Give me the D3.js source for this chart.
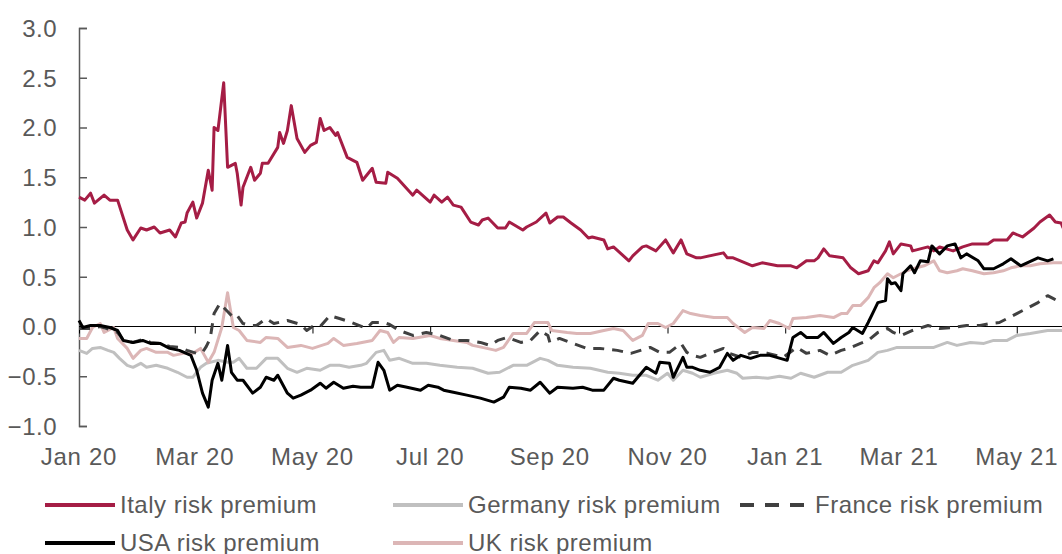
<!DOCTYPE html>
<html><head><meta charset="utf-8">
<script src="https://cdn.jsdelivr.net/npm/d3@7"></script>
<style>
html,body{margin:0;padding:0;background:#fff;}
svg text{font-family:"Liberation Sans",Arial,Helvetica,sans-serif;fill:#595959;}
</style></head>
<body>
<svg id="c" width="1062" height="554"></svg>
<script>
const yTicks = [-1.0,-0.5,0.0,0.5,1.0,1.5,2.0,2.5,3.0];
const xTicks = ["2020-01-01","2020-03-01","2020-05-01","2020-07-01","2020-09-01","2020-11-01","2021-01-01","2021-03-01","2021-05-01"];
const xTickLabels = ["Jan 20","Mar 20","May 20","Jul 20","Sep 20","Nov 20","Jan 21","Mar 21","May 21"];
const seriesNames = ["Italy risk premium","Germany risk premium","France risk premium","USA risk premium","UK risk premium"];

const italy = [
["2020-01-01",1.30],["2020-01-04",1.27],["2020-01-07",1.34],["2020-01-09",1.24],["2020-01-14",1.32],["2020-01-17",1.27],["2020-01-21",1.27],["2020-01-26",0.97],["2020-01-29",0.87],["2020-02-02",0.99],["2020-02-05",0.97],["2020-02-09",1.00],["2020-02-12",0.94],["2020-02-17",0.97],["2020-02-20",0.90],["2020-02-23",1.04],["2020-02-25",1.05],["2020-02-26",1.14],["2020-02-29",1.25],["2020-03-02",1.09],["2020-03-05",1.24],["2020-03-08",1.57],["2020-03-10",1.37],["2020-03-11",2.00],["2020-03-13",1.97],["2020-03-16",2.45],["2020-03-18",1.60],["2020-03-22",1.64],["2020-03-23",1.54],["2020-03-25",1.22],["2020-03-26",1.40],["2020-03-30",1.60],["2020-04-01",1.47],["2020-04-04",1.54],["2020-04-05",1.64],["2020-04-08",1.64],["2020-04-13",1.80],["2020-04-14",1.95],["2020-04-16",1.84],["2020-04-18",1.97],["2020-04-20",2.22],["2020-04-23",1.89],["2020-04-27",1.75],["2020-04-30",1.82],["2020-05-03",1.85],["2020-05-05",2.09],["2020-05-07",1.97],["2020-05-10",2.00],["2020-05-13",1.92],["2020-05-14",1.95],["2020-05-19",1.70],["2020-05-24",1.65],["2020-05-27",1.47],["2020-06-01",1.59],["2020-06-03",1.45],["2020-06-08",1.44],["2020-06-09",1.55],["2020-06-14",1.49],["2020-06-22",1.32],["2020-06-24",1.37],["2020-07-01",1.25],["2020-07-03",1.32],["2020-07-07",1.25],["2020-07-10",1.30],["2020-07-13",1.22],["2020-07-17",1.20],["2020-07-22",1.05],["2020-07-26",1.02],["2020-07-28",1.07],["2020-07-31",1.09],["2020-08-05",0.99],["2020-08-09",0.99],["2020-08-11",1.05],["2020-08-18",0.97],["2020-08-20",1.00],["2020-08-25",1.05],["2020-08-30",1.14],["2020-09-01",1.04],["2020-09-05",1.10],["2020-09-08",1.10],["2020-09-12",1.04],["2020-09-17",0.97],["2020-09-21",0.89],["2020-09-23",0.90],["2020-09-29",0.87],["2020-10-01",0.78],["2020-10-04",0.80],["2020-10-12",0.66],["2020-10-14",0.71],["2020-10-19",0.80],["2020-10-21",0.81],["2020-10-26",0.76],["2020-10-31",0.87],["2020-11-04",0.74],["2020-11-08",0.87],["2020-11-11",0.73],["2020-11-16",0.69],["2020-11-18",0.69],["2020-11-30",0.74],["2020-12-02",0.69],["2020-12-05",0.69],["2020-12-15",0.61],["2020-12-20",0.64],["2020-12-28",0.61],["2021-01-04",0.61],["2021-01-07",0.59],["2021-01-12",0.66],["2021-01-16",0.66],["2021-01-18",0.69],["2021-01-21",0.78],["2021-01-24",0.71],["2021-01-31",0.69],["2021-02-04",0.59],["2021-02-08",0.53],["2021-02-13",0.56],["2021-02-16",0.66],["2021-02-18",0.64],["2021-02-22",0.76],["2021-02-24",0.85],["2021-02-26",0.73],["2021-03-02",0.83],["2021-03-07",0.81],["2021-03-08",0.76],["2021-03-16",0.80],["2021-03-19",0.76],["2021-03-22",0.80],["2021-03-29",0.76],["2021-04-03",0.80],["2021-04-08",0.83],["2021-04-16",0.83],["2021-04-19",0.87],["2021-04-26",0.87],["2021-04-29",0.94],["2021-05-04",0.90],["2021-05-10",0.99],["2021-05-13",1.05],["2021-05-18",1.12],["2021-05-21",1.05],["2021-05-24",1.04],["2021-05-25",0.99]
];

const usa = [
["2020-01-01",0.06],["2020-01-03",-0.01],["2020-01-07",0.01],["2020-01-12",0.01],["2020-01-17",-0.01],["2020-01-21",-0.04],["2020-01-24",-0.14],["2020-01-29",-0.16],["2020-02-03",-0.14],["2020-02-07",-0.17],["2020-02-12",-0.17],["2020-02-17",-0.22],["2020-02-22",-0.24],["2020-02-28",-0.29],["2020-03-02",-0.44],["2020-03-05",-0.67],["2020-03-08",-0.81],["2020-03-10",-0.54],["2020-03-13",-0.37],["2020-03-15",-0.54],["2020-03-18",-0.19],["2020-03-20",-0.46],["2020-03-23",-0.54],["2020-03-26",-0.54],["2020-03-31",-0.67],["2020-04-04",-0.61],["2020-04-07",-0.51],["2020-04-11",-0.54],["2020-04-13",-0.49],["2020-04-18",-0.67],["2020-04-21",-0.72],["2020-04-25",-0.69],["2020-04-30",-0.64],["2020-05-05",-0.57],["2020-05-08",-0.62],["2020-05-12",-0.56],["2020-05-17",-0.62],["2020-05-22",-0.60],["2020-05-26",-0.61],["2020-06-01",-0.61],["2020-06-04",-0.36],["2020-06-07",-0.44],["2020-06-10",-0.64],["2020-06-14",-0.59],["2020-06-19",-0.61],["2020-06-26",-0.64],["2020-06-30",-0.59],["2020-07-05",-0.61],["2020-07-08",-0.64],["2020-07-13",-0.66],["2020-07-20",-0.69],["2020-07-27",-0.72],["2020-08-03",-0.76],["2020-08-08",-0.71],["2020-08-11",-0.61],["2020-08-17",-0.62],["2020-08-22",-0.64],["2020-08-27",-0.56],["2020-09-01",-0.67],["2020-09-05",-0.61],["2020-09-13",-0.62],["2020-09-18",-0.61],["2020-09-23",-0.64],["2020-09-29",-0.64],["2020-10-04",-0.52],["2020-10-07",-0.54],["2020-10-14",-0.57],["2020-10-21",-0.41],["2020-10-26",-0.47],["2020-10-28",-0.36],["2020-11-02",-0.37],["2020-11-04",-0.51],["2020-11-09",-0.31],["2020-11-11",-0.41],["2020-11-14",-0.41],["2020-11-18",-0.44],["2020-11-23",-0.46],["2020-11-28",-0.41],["2020-12-02",-0.27],["2020-12-05",-0.34],["2020-12-09",-0.29],["2020-12-14",-0.32],["2020-12-19",-0.29],["2020-12-24",-0.29],["2021-01-02",-0.34],["2021-01-05",-0.11],["2021-01-09",-0.06],["2021-01-12",-0.11],["2021-01-18",-0.11],["2021-01-21",-0.06],["2021-01-26",-0.17],["2021-01-30",-0.11],["2021-02-03",-0.06],["2021-02-05",-0.01],["2021-02-10",-0.07],["2021-02-13",0.04],["2021-02-16",0.16],["2021-02-18",0.24],["2021-02-22",0.26],["2021-02-23",0.48],["2021-02-25",0.43],["2021-02-27",0.44],["2021-03-02",0.36],["2021-03-03",0.53],["2021-03-07",0.61],["2021-03-09",0.54],["2021-03-12",0.66],["2021-03-16",0.65],["2021-03-18",0.81],["2021-03-22",0.73],["2021-03-26",0.81],["2021-03-30",0.83],["2021-04-02",0.69],["2021-04-05",0.73],["2021-04-11",0.66],["2021-04-14",0.58],["2021-04-19",0.58],["2021-04-24",0.63],["2021-04-28",0.68],["2021-05-03",0.61],["2021-05-12",0.69],["2021-05-17",0.66],["2021-05-20",0.68]
];

const uk = [
["2020-01-01",-0.12],["2020-01-05",-0.12],["2020-01-08",-0.01],["2020-01-12",0.03],["2020-01-14",-0.06],["2020-01-19",-0.01],["2020-01-21",-0.12],["2020-01-26",-0.22],["2020-01-29",-0.32],["2020-02-02",-0.24],["2020-02-05",-0.22],["2020-02-10",-0.26],["2020-02-16",-0.26],["2020-02-19",-0.29],["2020-02-24",-0.27],["2020-02-29",-0.27],["2020-03-04",-0.22],["2020-03-08",-0.36],["2020-03-11",-0.26],["2020-03-15",-0.01],["2020-03-18",0.34],["2020-03-21",-0.01],["2020-03-24",-0.04],["2020-03-28",-0.14],["2020-04-04",-0.16],["2020-04-07",-0.11],["2020-04-13",-0.12],["2020-04-18",-0.21],["2020-04-25",-0.19],["2020-05-01",-0.22],["2020-05-09",-0.17],["2020-05-12",-0.12],["2020-05-17",-0.19],["2020-05-24",-0.17],["2020-06-01",-0.14],["2020-06-05",-0.04],["2020-06-09",-0.06],["2020-06-12",-0.16],["2020-06-15",-0.11],["2020-06-22",-0.12],["2020-07-01",-0.09],["2020-07-06",-0.12],["2020-07-13",-0.14],["2020-07-20",-0.16],["2020-07-23",-0.19],["2020-07-28",-0.21],["2020-08-04",-0.24],["2020-08-08",-0.21],["2020-08-13",-0.07],["2020-08-20",-0.07],["2020-08-24",0.04],["2020-08-31",0.04],["2020-09-02",-0.04],["2020-09-10",-0.06],["2020-09-15",-0.07],["2020-09-22",-0.07],["2020-09-29",-0.04],["2020-10-04",-0.02],["2020-10-09",-0.04],["2020-10-14",-0.14],["2020-10-19",-0.09],["2020-10-22",0.03],["2020-10-27",0.03],["2020-10-31",-0.01],["2020-11-04",0.03],["2020-11-09",0.16],["2020-11-13",0.13],["2020-11-18",0.11],["2020-11-25",0.09],["2020-12-02",0.09],["2020-12-05",0.03],["2020-12-11",-0.06],["2020-12-15",-0.01],["2020-12-21",-0.02],["2020-12-24",0.06],["2020-12-29",0.03],["2021-01-03",-0.02],["2021-01-05",0.08],["2021-01-12",0.09],["2021-01-19",0.11],["2021-01-26",0.09],["2021-01-30",0.13],["2021-02-02",0.13],["2021-02-05",0.21],["2021-02-09",0.21],["2021-02-13",0.29],["2021-02-16",0.39],["2021-02-19",0.44],["2021-02-23",0.53],["2021-02-26",0.49],["2021-03-02",0.53],["2021-03-05",0.56],["2021-03-10",0.59],["2021-03-14",0.61],["2021-03-19",0.66],["2021-03-22",0.56],["2021-03-26",0.54],["2021-03-31",0.56],["2021-04-03",0.58],["2021-04-08",0.56],["2021-04-14",0.53],["2021-04-19",0.54],["2021-04-24",0.56],["2021-04-28",0.59],["2021-05-03",0.61],["2021-05-08",0.61],["2021-05-13",0.63],["2021-05-20",0.64],["2021-05-25",0.64]
];

const germany = [
["2020-01-01",-0.24],["2020-01-05",-0.27],["2020-01-08",-0.22],["2020-01-12",-0.21],["2020-01-16",-0.24],["2020-01-19",-0.26],["2020-01-22",-0.32],["2020-01-26",-0.39],["2020-01-29",-0.41],["2020-02-02",-0.37],["2020-02-05",-0.41],["2020-02-10",-0.39],["2020-02-16",-0.42],["2020-02-21",-0.46],["2020-02-26",-0.51],["2020-02-29",-0.51],["2020-03-04",-0.41],["2020-03-07",-0.37],["2020-03-13",-0.34],["2020-03-18",-0.36],["2020-03-21",-0.36],["2020-03-24",-0.32],["2020-03-28",-0.42],["2020-04-02",-0.42],["2020-04-07",-0.32],["2020-04-13",-0.32],["2020-04-18",-0.42],["2020-04-23",-0.46],["2020-04-28",-0.42],["2020-05-05",-0.44],["2020-05-10",-0.39],["2020-05-15",-0.39],["2020-05-20",-0.41],["2020-05-26",-0.39],["2020-05-29",-0.37],["2020-06-03",-0.26],["2020-06-07",-0.24],["2020-06-10",-0.34],["2020-06-15",-0.32],["2020-06-22",-0.37],["2020-06-29",-0.37],["2020-07-06",-0.39],["2020-07-15",-0.41],["2020-07-23",-0.42],["2020-07-31",-0.47],["2020-08-06",-0.46],["2020-08-13",-0.39],["2020-08-20",-0.39],["2020-08-27",-0.32],["2020-08-31",-0.34],["2020-09-05",-0.39],["2020-09-13",-0.41],["2020-09-22",-0.42],["2020-10-01",-0.46],["2020-10-07",-0.47],["2020-10-14",-0.49],["2020-10-21",-0.49],["2020-10-27",-0.54],["2020-11-01",-0.47],["2020-11-04",-0.54],["2020-11-09",-0.44],["2020-11-14",-0.47],["2020-11-18",-0.51],["2020-11-25",-0.47],["2020-12-02",-0.44],["2020-12-07",-0.47],["2020-12-10",-0.52],["2020-12-17",-0.51],["2020-12-23",-0.52],["2020-12-29",-0.50],["2021-01-04",-0.52],["2021-01-09",-0.47],["2021-01-16",-0.51],["2021-01-23",-0.46],["2021-01-30",-0.46],["2021-02-05",-0.39],["2021-02-13",-0.34],["2021-02-18",-0.26],["2021-02-23",-0.24],["2021-02-28",-0.21],["2021-03-05",-0.21],["2021-03-12",-0.21],["2021-03-19",-0.21],["2021-03-26",-0.16],["2021-03-31",-0.19],["2021-04-07",-0.16],["2021-04-14",-0.17],["2021-04-19",-0.14],["2021-04-26",-0.14],["2021-05-01",-0.09],["2021-05-08",-0.07],["2021-05-17",-0.04],["2021-05-25",-0.04]
];

const france = [
["2020-01-01",-0.02],["2020-01-07",-0.02],["2020-01-12",0.00],["2020-01-17",-0.03],["2020-01-21",-0.06],["2020-01-24",-0.14],["2020-01-29",-0.16],["2020-02-03",-0.13],["2020-02-07",-0.16],["2020-02-12",-0.17],["2020-02-17",-0.20],["2020-02-22",-0.21],["2020-02-26",-0.24],["2020-03-02",-0.27],["2020-03-05",-0.26],["2020-03-07",-0.20],["2020-03-09",-0.12],["2020-03-11",0.13],["2020-03-14",0.23],["2020-03-18",0.15],["2020-03-21",0.09],["2020-03-23",0.11],["2020-03-26",0.03],["2020-03-30",0.01],["2020-04-02",0.01],["2020-04-07",0.08],["2020-04-11",0.03],["2020-04-18",0.06],["2020-04-25",0.02],["2020-04-28",-0.04],["2020-05-01",0.00],["2020-05-05",0.00],["2020-05-10",0.11],["2020-05-15",0.08],["2020-05-20",0.05],["2020-05-29",-0.02],["2020-06-01",0.04],["2020-06-07",0.04],["2020-06-10",0.02],["2020-06-15",-0.04],["2020-06-22",-0.09],["2020-06-29",-0.06],["2020-07-06",-0.09],["2020-07-13",-0.14],["2020-07-20",-0.14],["2020-07-27",-0.16],["2020-08-01",-0.19],["2020-08-05",-0.14],["2020-08-10",-0.11],["2020-08-17",-0.16],["2020-08-22",-0.14],["2020-08-27",-0.04],["2020-08-31",-0.09],["2020-09-01",-0.16],["2020-09-06",-0.12],["2020-09-13",-0.17],["2020-09-20",-0.22],["2020-09-27",-0.22],["2020-10-06",-0.24],["2020-10-13",-0.27],["2020-10-18",-0.24],["2020-10-23",-0.21],["2020-10-28",-0.26],["2020-11-02",-0.26],["2020-11-08",-0.17],["2020-11-11",-0.26],["2020-11-14",-0.29],["2020-11-18",-0.31],["2020-11-23",-0.27],["2020-11-30",-0.22],["2020-12-03",-0.27],["2020-12-09",-0.31],["2020-12-15",-0.26],["2020-12-23",-0.27],["2020-12-31",-0.31],["2021-01-07",-0.21],["2021-01-12",-0.27],["2021-01-19",-0.24],["2021-01-24",-0.29],["2021-01-30",-0.24],["2021-02-03",-0.22],["2021-02-09",-0.17],["2021-02-13",-0.14],["2021-02-18",-0.06],["2021-02-23",-0.02],["2021-02-26",-0.06],["2021-03-02",-0.09],["2021-03-08",-0.04],["2021-03-16",0.01],["2021-03-22",-0.02],["2021-03-29",-0.01],["2021-04-05",0.01],["2021-04-12",0.01],["2021-04-17",0.03],["2021-04-22",0.04],["2021-04-26",0.08],["2021-05-01",0.13],["2021-05-06",0.18],["2021-05-12",0.24],["2021-05-17",0.31],["2021-05-20",0.28],["2021-05-24",0.24]
];

const parse = d3.timeParse("%Y-%m-%d");
const svg = d3.select("#c");
const x = d3.scaleTime().domain([parse("2020-01-01"), parse("2021-05-26")]).range([79, 1065]);
const y = d3.scaleLinear().domain([-1, 3]).range([426, 28]);

// y axis
const yAxis = d3.axisRight(y).tickValues(yTicks).tickSize(8).tickFormat(d3.format(".1f"));
const gy = svg.append("g").attr("transform","translate(79,0)").call(yAxis);
gy.select(".domain").attr("stroke","#595959").attr("stroke-width",1.5);
gy.selectAll(".tick line").attr("stroke","#595959").attr("stroke-width",1.5);
gy.selectAll(".tick text").attr("x",-22).attr("text-anchor","end").attr("dy","0.35em")
  .style("font-size","24px").style("letter-spacing","0.5px").style("fill","#595959");

// x axis at zero
const xt = xTicks.map(parse);
const xAxis = d3.axisBottom(x).tickValues(xt).tickSize(7).tickFormat(() => "");
const gx = svg.append("g").attr("transform",`translate(0,${y(0)})`).call(xAxis);
gx.select(".domain").attr("d", `M79,0H1062`).attr("stroke","#000").attr("stroke-width",1);
gx.selectAll(".tick line").attr("stroke","#000").attr("stroke-width",1);

// x tick labels at bottom
svg.append("g").selectAll("text").data(xt).join("text")
  .attr("x", d => x(d)).attr("y", 465).attr("text-anchor","middle")
  .style("font-size","24px").style("letter-spacing","0.7px").text((d,i) => xTickLabels[i]);

const line = d3.line().x(d => x(parse(d[0]))).y(d => y(d[1])).curve(d3.curveLinear);
const styles = [
  {data: italy, color:"#a51d45", dash:null},
  {data: germany, color:"#c0c0c0", dash:null},
  {data: uk, color:"#dcb6b6", dash:null},
  {data: france, color:"#404040", dash:"11,8"},
  {data: usa, color:"#000000", dash:null}
];
styles.forEach(s => {
  svg.append("path").datum(s.data).attr("d", line).attr("fill","none")
    .attr("stroke", s.color).attr("stroke-width", 3).attr("stroke-linejoin","round")
    .attr("stroke-dasharray", s.dash);
});

// legend
const legendColors = ["#a51d45","#c0c0c0","#404040","#000000","#dcb6b6"];
const legendDash = [null,null,"14,11",null,null];
const legendPos = [[45,505],[393,505],[740,505],[45,543],[393,543]];
const lg = svg.append("g");
seriesNames.forEach((n,i) => {
  const [lx, ly] = legendPos[i];
  lg.append("line").attr("x1",lx).attr("x2",lx+70).attr("y1",ly).attr("y2",ly)
    .attr("stroke",legendColors[i]).attr("stroke-width",4).attr("stroke-dasharray",legendDash[i]);
  lg.append("text").attr("x",lx+75).attr("y",ly+8).style("font-size","24px")
    .style("letter-spacing","0.5px").text(n);
});
</script>
</body></html>
